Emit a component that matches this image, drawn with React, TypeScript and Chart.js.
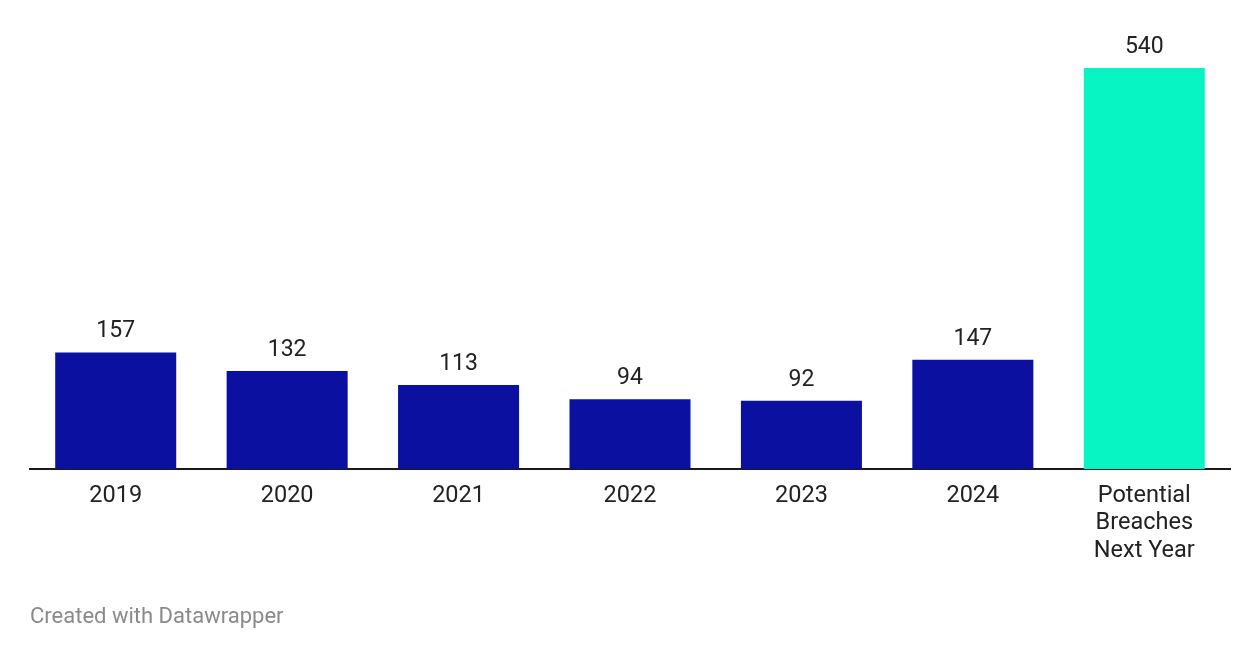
import React, { useEffect, useRef } from "react";
import { Chart, registerables } from "chart.js";

Chart.register(...registerables);

const categories: (string | string[])[] = ["2019", "2020", "2021", "2022", "2023", "2024", ["Potential", "Breaches", "Next Year"]];
const breaches = [157, 132, 113, 94, 92, 147, 540];
const barColors = ["#0b10a1", "#0b10a1", "#0b10a1", "#0b10a1", "#0b10a1", "#0b10a1", "#06f5c2"];
const footerText = "Created with Datawrapper";

const FONT = "Roboto, 'Noto Sans', sans-serif";

const labelPlugin = {
  id: "valueLabels",
  afterDatasetsDraw(chart: any) {
    const ctx = chart.ctx;
    const meta = chart.getDatasetMeta(0);
    ctx.save();
    ctx.font = `23px ${FONT}`;
    ctx.fillStyle = "#222222";
    ctx.textAlign = "center";
    ctx.textBaseline = "alphabetic";
    meta.data.forEach((el: any, i: number) => {
      ctx.fillText(String(breaches[i]), el.x, el.y - 15);
    });
    ctx.font = `22px ${FONT}`;
    ctx.fillStyle = "#8a8a8a";
    ctx.textAlign = "left";
    ctx.textBaseline = "middle";
    ctx.fillText(footerText, 30, 617);
    ctx.restore();
  },
};

export default function App() {
  const ref = useRef<HTMLCanvasElement | null>(null);
  useEffect(() => {
    if (!ref.current) return;
    const chart = new Chart(ref.current, {
      type: "bar",
      data: {
        labels: categories as any,
        datasets: [
          {
            data: breaches,
            backgroundColor: barColors,
            categoryPercentage: 1,
            barPercentage: 0.706,
          },
        ],
      },
      options: {
        animation: false,
        responsive: false,
        maintainAspectRatio: false,
        layout: { padding: { left: 30, right: 30, top: 68, bottom: 0 } },
        plugins: { legend: { display: false }, tooltip: { enabled: false }, title: { display: false } },
        scales: {
          x: {
            grid: { display: false, drawTicks: false },
            border: { display: true, color: "#1a1a1a", width: 2 },
            ticks: {
              color: "#222222",
              font: { family: FONT, size: 23.5, lineHeight: 1.17 },
              padding: 13,
              maxRotation: 0,
              autoSkip: false,
            },
            afterFit(scale: any) {
              scale.height = 191;
            },
          },
          y: {
            display: false,
            min: 0,
            max: 540,
          },
        },
      },
      plugins: [labelPlugin],
    });
    return () => chart.destroy();
  }, []);
  return (
    <div style={{ position: "absolute", left: 0, top: 0, width: 1260, height: 660, background: "#fff" }}>
      <canvas ref={ref} width={1260} height={660} style={{ width: 1260, height: 660 }} />
    </div>
  );
}
